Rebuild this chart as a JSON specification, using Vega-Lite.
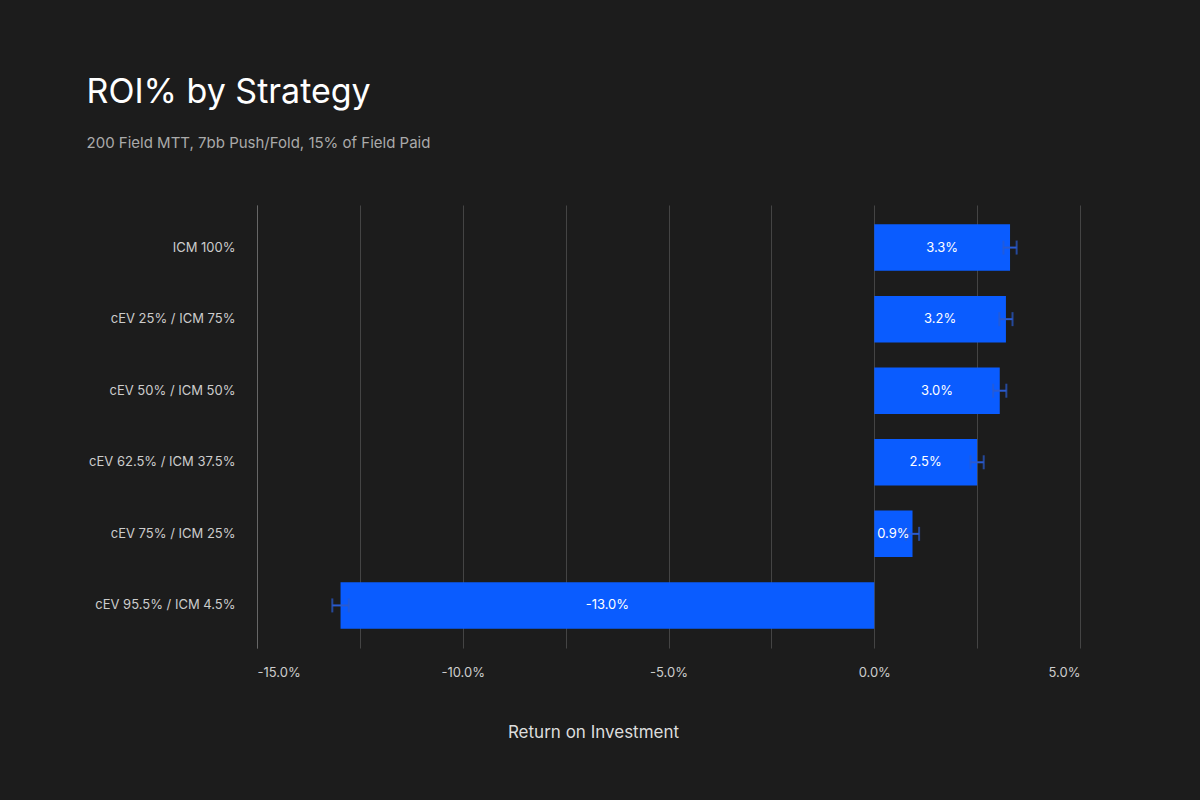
{
  "$schema": "https://vega.github.io/schema/vega-lite/v6.json",
  "width": 823,
  "height": 443,
  "autosize": "none",
  "padding": {"left": 257, "top": 205, "right": 120, "bottom": 152},
  "background": "#1c1c1c",
  "title": {
    "text": "ROI% by Strategy",
    "subtitle": "200 Field MTT, 7bb Push/Fold, 15% of Field Paid",
    "anchor": "start",
    "dx": -2,
    "offset": 54,
    "font": "Inter",
    "fontSize": 34,
    "fontWeight": "normal",
    "color": "#ffffff",
    "subtitleFont": "Inter",
    "subtitleFontSize": 15,
    "subtitleColor": "#aaaaaa",
    "subtitlePadding": 26
  },
  "data": {
    "values": [
      {"strategy": "ICM 100%", "roi": 3.3, "err": 0.16},
      {"strategy": "cEV 25% / ICM 75%", "roi": 3.2, "err": 0.16},
      {"strategy": "cEV 50% / ICM 50%", "roi": 3.05, "err": 0.16},
      {"strategy": "cEV 62.5% / ICM 37.5%", "roi": 2.5, "err": 0.16},
      {"strategy": "cEV 75% / ICM 25%", "roi": 0.93, "err": 0.16},
      {"strategy": "cEV 95.5% / ICM 4.5%", "roi": -12.97, "err": 0.2}
    ]
  },
  "transform": [
    {"calculate": "datum.roi / 2", "as": "mid"},
    {"calculate": "datum.roi - datum.err", "as": "lo"},
    {"calculate": "datum.roi + datum.err", "as": "hi"},
    {"calculate": "replace(format(datum.roi, '.1f'), '\u2212', '-') + '%'", "as": "label"}
  ],
  "encoding": {
    "y": {
      "field": "strategy",
      "type": "nominal",
      "sort": null,
      "title": null,
      "scale": {"paddingInner": 0.35, "paddingOuter": 0.27},
      "axis": {"ticks": false, "labelPadding": 22, "labelFontSize": 13, "labelColor": "#cccccc", "labelFont": "Inter", "domainColor": "#666666", "grid": false}
    }
  },
  "layer": [
    {
      "mark": {"type": "bar", "color": "#0a5cff"},
      "encoding": {
        "x": {
          "field": "roi",
          "type": "quantitative",
          "scale": {"domain": [-15, 5], "nice": false},
          "title": "Return on Investment",
          "axis": {
            "values": [-15, -12.5, -10, -7.5, -5, -2.5, 0, 2.5, 5],
            "labelExpr": "datum.value % 5 == 0 ? replace(format(datum.value, '.1f'), '\u2212', '-') + '%' : ''",
            "domain": false,
            "ticks": false,
            "gridColor": "#444444",
            "labelColor": "#cccccc",
            "labelFontSize": 13,
            "labelFont": "Inter",
            "labelPadding": 18,
            "titleColor": "#dddddd",
            "titleFontSize": 17,
            "titleFont": "Inter",
            "titleFontWeight": "normal",
            "titlePadding": 45,
            "titleX": 336
          }
        }
      }
    },
    {
      "mark": {"type": "rule", "color": "#2a5bd0", "strokeWidth": 2},
      "encoding": {"x": {"field": "lo", "type": "quantitative"}, "x2": {"field": "hi"}}
    },
    {
      "mark": {"type": "tick", "color": "#2a5bd0", "orient": "vertical", "size": 14, "thickness": 2},
      "encoding": {"x": {"field": "lo", "type": "quantitative"}}
    },
    {
      "mark": {"type": "tick", "color": "#2a5bd0", "orient": "vertical", "size": 14, "thickness": 2},
      "encoding": {"x": {"field": "hi", "type": "quantitative"}}
    },
    {
      "mark": {"type": "text", "color": "#ffffff", "fontSize": 13, "font": "Inter"},
      "encoding": {
        "x": {"field": "mid", "type": "quantitative"},
        "text": {"field": "label", "type": "nominal"}
      }
    }
  ],
  "config": {"view": {"stroke": null}}
}
